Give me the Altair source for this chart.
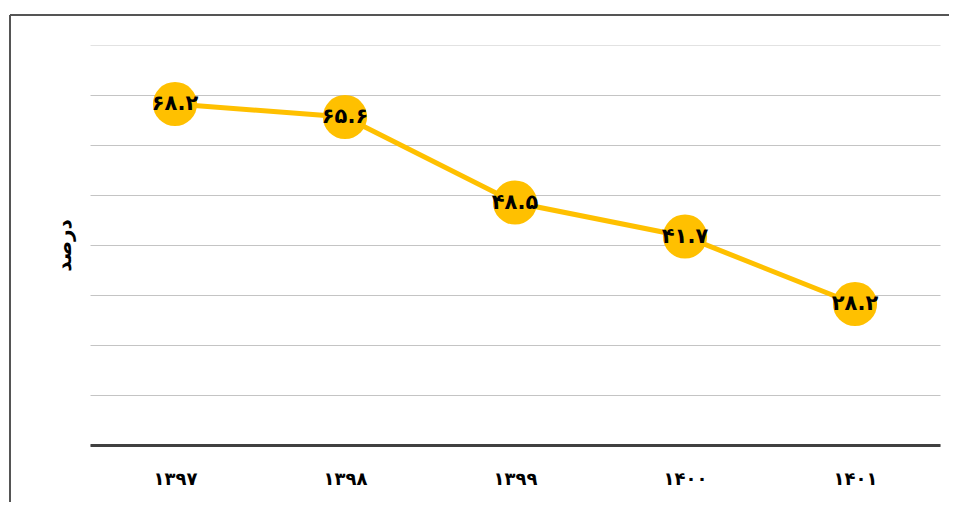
import altair as alt
import pandas as pd

years = ["۱۳۹۷", "۱۳۹۸", "۱۳۹۹", "۱۴۰۰", "۱۴۰۱"]
values = [68.2, 65.6, 48.5, 41.7, 28.2]
labels = ["۶۸.۲", "۶۵.۶", "۴۸.۵", "۴۱.۷", "۲۸.۲"]
y_title = "درصد"

df = pd.DataFrame({"year": years, "value": values, "label": labels})

FONT = "DejaVu Sans"
GOLD = "#FFC000"

x = alt.X("year:N", sort=years, scale=alt.Scale(type="point", padding=0.5),
          axis=alt.Axis(title=None, labelAngle=0, labelFont=FONT, labelFontSize=18,
                        labelFontWeight="bold", labelColor="black", labelPadding=25,
                        ticks=False, grid=False, domainColor="#404040", domainWidth=3))
y = alt.Y("value:Q", scale=alt.Scale(domain=[0, 80], nice=False),
          axis=alt.Axis(title=y_title, titleFont=FONT, titleFontSize=20,
                        titleFontWeight="bold", titleColor="black", titlePadding=16,
                        labels=False, ticks=False, domain=False,
                        values=[0, 10, 20, 30, 40, 50, 60, 70, 80],
                        gridColor=alt.expr("datum.value >= 80 ? '#e2e2e2' : '#c4c4c4'"),
                        gridWidth=1))

base = alt.Chart(df)
line = base.mark_line(color=GOLD, strokeWidth=5).encode(x=x, y=y)
pts = base.mark_circle(color=GOLD, size=1950, opacity=1).encode(x=x, y=y)
txt = base.mark_text(font=FONT, fontSize=21, fontWeight="bold", color="black",
                     align="center", baseline="middle").encode(x=x, y=y, text="label:N")

frame_top = alt.Chart(df).mark_rule(color="#555555", strokeWidth=2).encode(
    x=alt.value(-80), x2=alt.value(900), y=alt.value(-30))
frame_left = alt.Chart(df).mark_rule(color="#555555", strokeWidth=2).encode(
    x=alt.value(-80), y=alt.value(-30), y2=alt.value(480))

chart = alt.layer(frame_top, frame_left, line, pts, txt).properties(
    width=850, height=400,
    autosize=alt.AutoSizeParams(type="none"),
    padding={"left": 82, "top": 37, "right": 9, "bottom": 57},
).configure_view(stroke=None)

chart.save("out.html", embed_options={"renderer": "svg", "actions": False})
